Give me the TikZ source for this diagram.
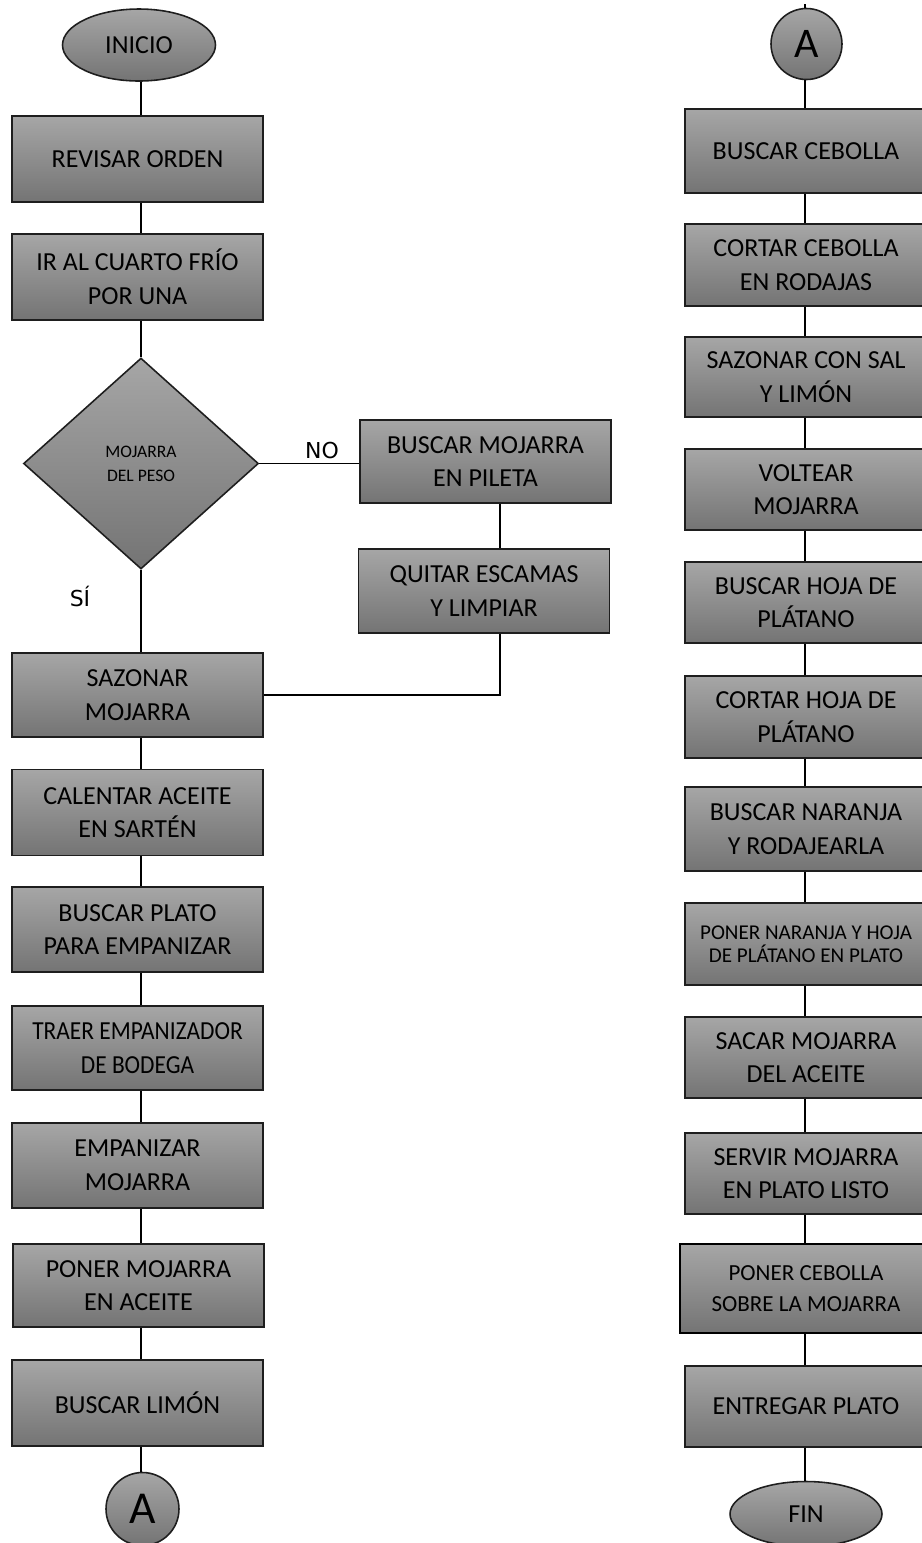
\documentclass[tikz,border=0pt]{standalone}
\usepackage{fontspec}
\setmainfont{Carlito}
\newfontfamily\lblfont{DejaVu Sans}
\usetikzlibrary{shapes.geometric,calc}
\definecolor{gtop}{RGB}{166,166,166}
\definecolor{gbot}{RGB}{116,116,116}
\definecolor{edge}{RGB}{30,30,30}
\begin{document}
\begin{tikzpicture}[x=0.02cm,y=-0.02cm,
  shade/.style={draw=edge, line width=0.9pt, top color=gtop, bottom color=gbot, text=black},
  box/.style={shade, rectangle, inner sep=0pt, align=center,
    font=\fontsize{14.8}{19.1}\selectfont},
  lbox/.style={box, minimum width=5.02cm},
  rbox/.style={box, minimum width=4.84cm},
  conn/.style={draw=black, line width=1pt},
  lbl/.style={font=\lblfont\fontsize{12.5}{14}\selectfont, text=black, inner sep=0pt}]
\useasboundingbox (0,0) rectangle (922,1543);

% reference x for connectors
\coordinate (lx) at (141,0);
\coordinate (nx) at (500,0);
\coordinate (rx) at (805,0);

% ---------- left column ----------
\node[shade, ellipse, minimum width=3.06cm, minimum height=1.44cm, inner sep=0pt,
  font=\fontsize{14.8}{19}\selectfont] (inicio) at (139,45) {INICIO};
\node[lbox, minimum height=1.72cm] (revisar) at (137.5,159) {REVISAR ORDEN};
\node[lbox, minimum height=1.72cm] (cuarto) at (137.5,277) {IR AL CUARTO FRÍO\\POR UNA};
\node[shade, diamond, minimum width=4.7cm, minimum height=4.22cm, inner sep=0pt, align=center,
  font=\fontsize{10}{13.6}\selectfont] (peso) at (141,463.5) {MOJARRA\\DEL PESO};
\node[lbox, minimum height=1.66cm] (pileta) at (485.5,461.5) {BUSCAR MOJARRA\\EN PILETA};
\node[lbox, minimum height=1.68cm] (escamas) at (484,591) {QUITAR ESCAMAS\\Y LIMPIAR};
\node[lbox, minimum height=1.68cm] (sazonar) at (137.5,695) {SAZONAR\\MOJARRA};
\node[lbox, minimum height=1.72cm] (calentar) at (137.5,812.5) {CALENTAR ACEITE\\EN SARTÉN};
\node[lbox, minimum height=1.70cm] (plato) at (137.5,929.5) {BUSCAR PLATO\\PARA EMPANIZAR};
\node[lbox, minimum height=1.68cm] (traer) at (137.5,1048) {\scalebox{0.9}[1]{TRAER EMPANIZADOR}\\\scalebox{0.9}[1]{DE BODEGA}};
\node[lbox, minimum height=1.70cm] (empanizar) at (137.5,1165.5) {EMPANIZAR\\MOJARRA};
\node[lbox, minimum height=1.66cm] (poner) at (138.5,1285.5) {PONER MOJARRA\\EN ACEITE};
\node[lbox, minimum height=1.72cm] (limon) at (137.5,1403) {BUSCAR LIMÓN};
\node[shade, circle, minimum size=1.46cm, inner sep=0pt,
  font=\fontsize{26}{28}\selectfont] (aleft) at (142.5,1509) {A};

\node[lbl] (no) at (322,450) {NO};
\node[lbl] (si) at (80,596) {SÍ};

% ---------- right column ----------
\coordinate (rtop) at (805,4);
\node[shade, circle, minimum size=1.42cm, inner sep=0pt,
  font=\fontsize{24}{26}\selectfont] (aright) at (806.5,44) {A};
\node[rbox, minimum height=1.68cm] (cebolla) at (806,151) {BUSCAR CEBOLLA};
\node[rbox, minimum height=1.64cm] (rodajas) at (806,265) {CORTAR CEBOLLA\\EN RODAJAS};
\node[rbox, minimum height=1.60cm] (sal) at (806,377) {SAZONAR CON SAL\\Y LIMÓN};
\node[rbox, minimum height=1.62cm] (voltear) at (806,489.5) {VOLTEAR\\MOJARRA};
\node[rbox, minimum height=1.62cm] (hoja) at (806,602.5) {BUSCAR HOJA DE\\PLÁTANO};
\node[rbox, minimum height=1.64cm] (cortarhoja) at (806,717) {CORTAR HOJA DE\\PLÁTANO};
\node[rbox, minimum height=1.68cm] (naranja) at (806,829) {BUSCAR NARANJA\\Y RODAJEARLA};
\node[rbox, minimum height=1.64cm, font=\fontsize{12}{13}\selectfont] (ponernar) at (806,944) {PONER NARANJA Y HOJA\\DE PLÁTANO EN PLATO};
\node[rbox, minimum height=1.62cm] (sacar) at (806,1057.5) {SACAR MOJARRA\\DEL ACEITE};
\node[rbox, minimum height=1.62cm] (servir) at (806,1173.5) {SERVIR MOJARRA\\EN PLATO LISTO};
\node[rbox, minimum width=5.04cm, minimum height=1.78cm, line width=1.3pt,
  draw=black, font=\fontsize{13.1}{17.6}\selectfont] (ponerceb) at (806,1288.5) {PONER CEBOLLA\\SOBRE LA MOJARRA};
\node[rbox, minimum height=1.62cm] (entregar) at (806,1406.5) {ENTREGAR PLATO};
\node[shade, ellipse, minimum width=3.04cm, minimum height=1.30cm, inner sep=0pt,
  font=\fontsize{14.8}{19}\selectfont] (fin) at (806,1514) {FIN};

% ---------- connectors: left ----------
\draw[conn] (inicio.south -| lx) -- (revisar.north -| lx);
\draw[conn] (revisar.south -| lx) -- (cuarto.north -| lx);
\draw[conn] (cuarto.south -| lx) -- (peso.north);
\draw[conn] (peso.east) -- (pileta.west |- peso.east);
\draw[conn] (pileta.south -| nx) -- (escamas.north -| nx);
\draw[conn] (escamas.south -| nx) |- (sazonar.east);
\draw[conn] (peso.south) -- (sazonar.north -| lx);
\draw[conn] (sazonar.south -| lx) -- (calentar.north -| lx);
\draw[conn] (calentar.south -| lx) -- (plato.north -| lx);
\draw[conn] (plato.south -| lx) -- (traer.north -| lx);
\draw[conn] (traer.south -| lx) -- (empanizar.north -| lx);
\draw[conn] (empanizar.south -| lx) -- (poner.north -| lx);
\draw[conn] (poner.south -| lx) -- (limon.north -| lx);
\draw[conn] (limon.south -| lx) -- (aleft.north -| lx);

% ---------- connectors: right ----------
\draw[conn] (rtop) -- (aright.north -| rx);
\draw[conn] (aright.south -| rx) -- (cebolla.north -| rx);
\draw[conn] (cebolla.south -| rx) -- (rodajas.north -| rx);
\draw[conn] (rodajas.south -| rx) -- (sal.north -| rx);
\draw[conn] (sal.south -| rx) -- (voltear.north -| rx);
\draw[conn] (voltear.south -| rx) -- (hoja.north -| rx);
\draw[conn] (hoja.south -| rx) -- (cortarhoja.north -| rx);
\draw[conn] (cortarhoja.south -| rx) -- (naranja.north -| rx);
\draw[conn] (naranja.south -| rx) -- (ponernar.north -| rx);
\draw[conn] (ponernar.south -| rx) -- (sacar.north -| rx);
\draw[conn] (sacar.south -| rx) -- (servir.north -| rx);
\draw[conn] (servir.south -| rx) -- (ponerceb.north -| rx);
\draw[conn] (ponerceb.south -| rx) -- (entregar.north -| rx);
\draw[conn] (entregar.south -| rx) -- (fin.north -| rx);
\end{tikzpicture}
\end{document}
